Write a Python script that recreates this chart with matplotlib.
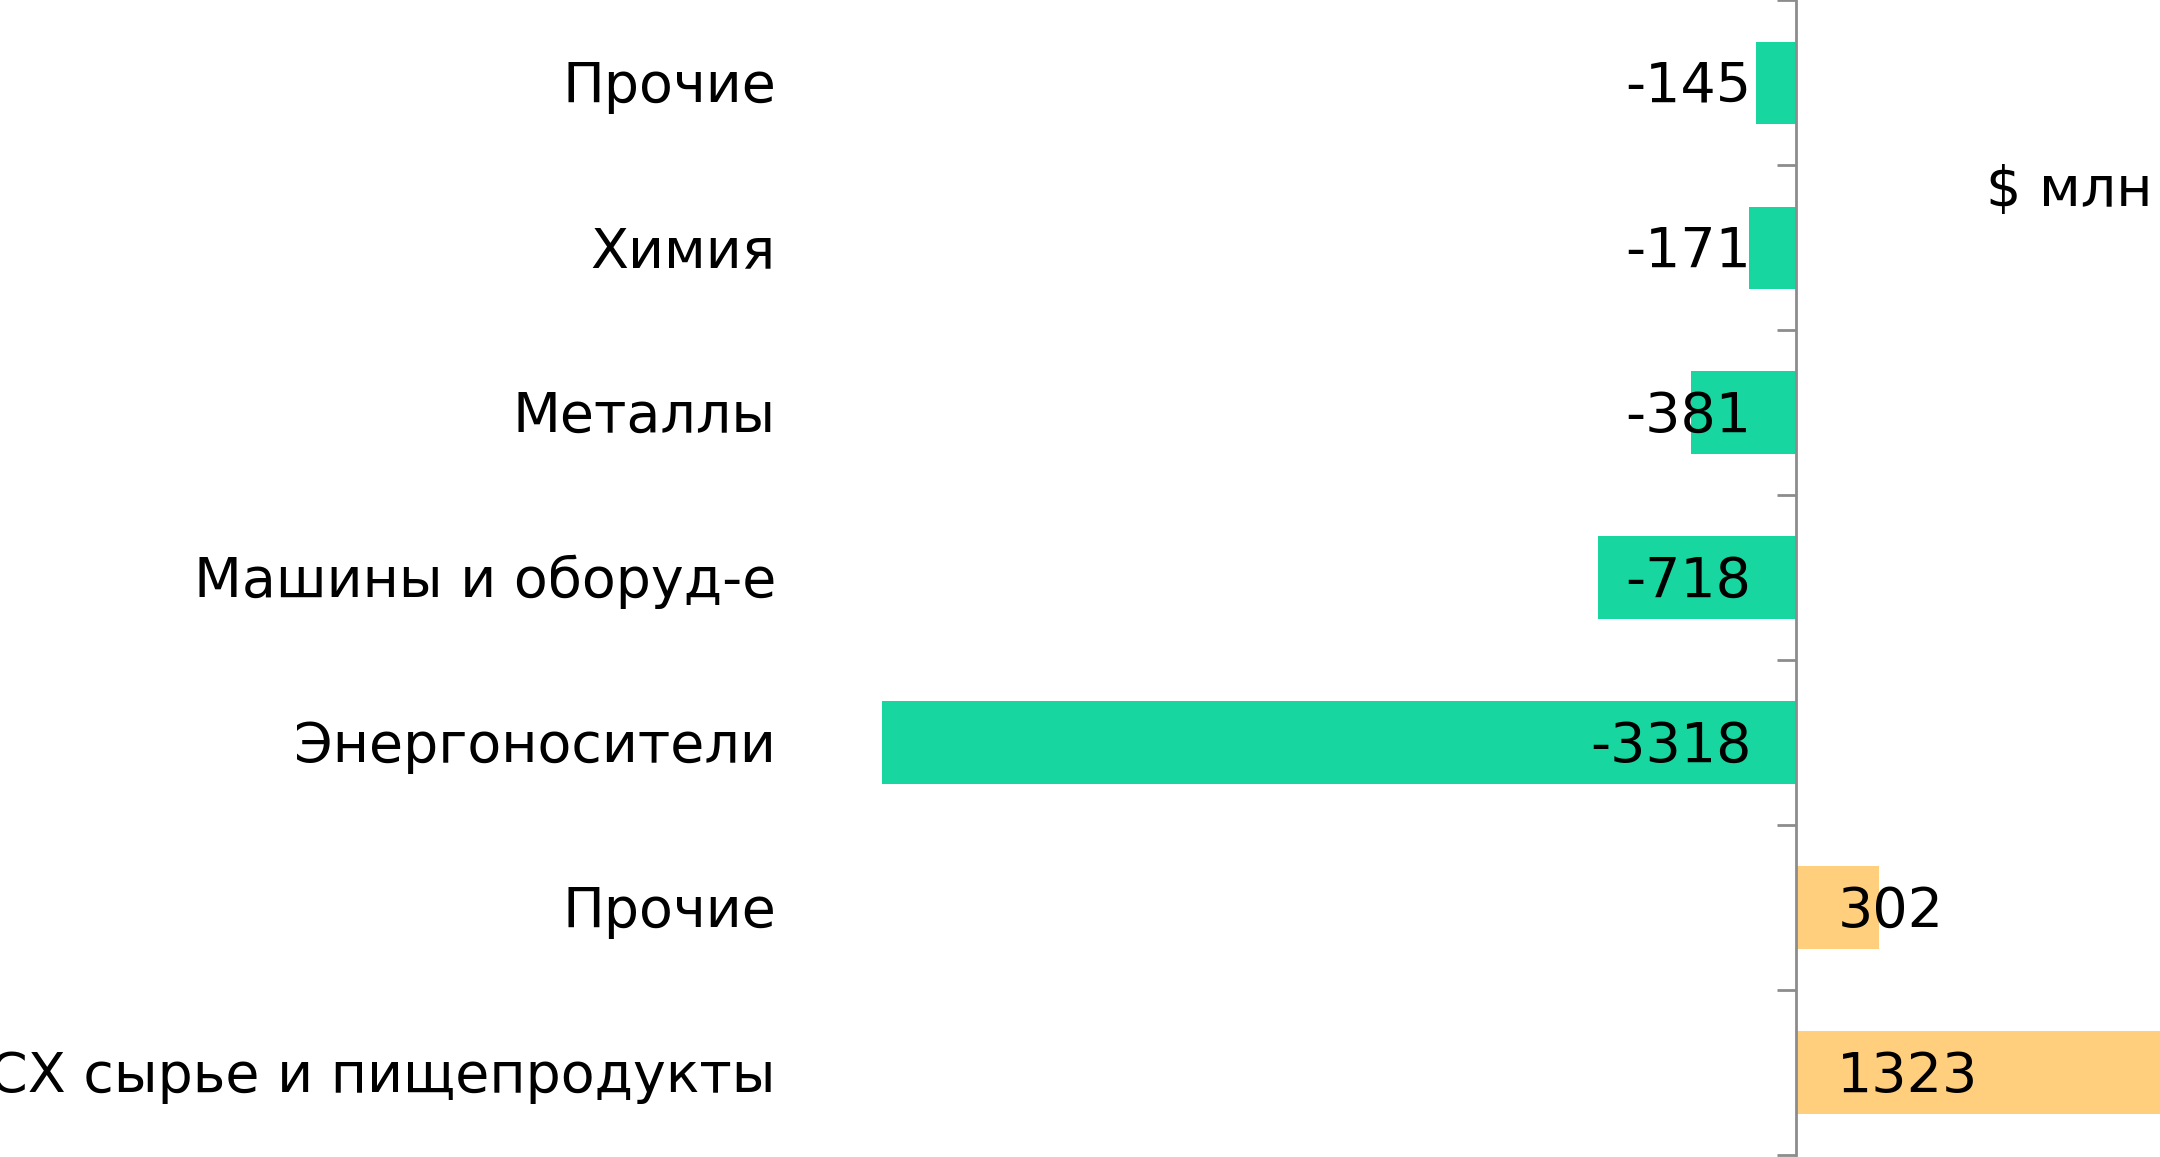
import matplotlib.pyplot as plt

# categories, top to bottom
labels = ['Прочие', 'Химия', 'Металлы', 'Машины и оборуд-е',
          'Энергоносители', 'Прочие', 'СХ сырье и пищепродукты']
values = [-145, -171, -381, -718, -3318, 302, 1323]

green = '#17d6a0'
orange = '#ffcf7d'
colors = [green if v < 0 else orange for v in values]

plt.rcParams['font.family'] = ['DejaVu Sans']

fig = plt.figure(figsize=(21.6, 11.57), dpi=100)
# axes span from the longest negative bar to the right edge of the figure
ax = fig.add_axes((882 / 2160, 0.0017, 1 - 882 / 2160, 0.998))

ypos = [i + 0.5 for i in range(len(values))]
ax.barh(ypos, values, height=0.5, color=colors)
ax.set_xlim(min(values), max(values))
ax.set_ylim(len(values), 0)

# only a vertical axis at zero, ticks between categories
for side in ('top', 'right', 'bottom'):
    ax.spines[side].set_visible(False)
ax.spines['left'].set_position(('data', 0))
ax.spines['left'].set_color('#8c8c8c')
ax.spines['left'].set_linewidth(2)
ax.set_xticks([])
ax.set_yticks(range(len(values) + 1))
ax.set_yticklabels([])
ax.tick_params(axis='y', direction='out', length=14, width=2, color='#8c8c8c')

# category names
for y, lab in zip(ypos, labels):
    ax.annotate(lab, (-0.083, y), xycoords=ax.get_yaxis_transform(),
                xytext=(0, -3), textcoords='offset points',
                ha='right', va='center', fontsize=40, annotation_clip=False)

# value labels
for y, v in zip(ypos, values):
    if v < 0:
        ax.annotate(str(v), (0, y), xytext=(-32, -3), textcoords='offset points',
                    ha='right', va='center', fontsize=40)
    else:
        ax.annotate(str(v), (0, y), xytext=(30, -3), textcoords='offset points',
                    ha='left', va='center', fontsize=40)

fig.text(0.9963, 0.835, '$ млн', ha='right', va='center', fontsize=40)

fig.savefig('out.png', dpi=100)
